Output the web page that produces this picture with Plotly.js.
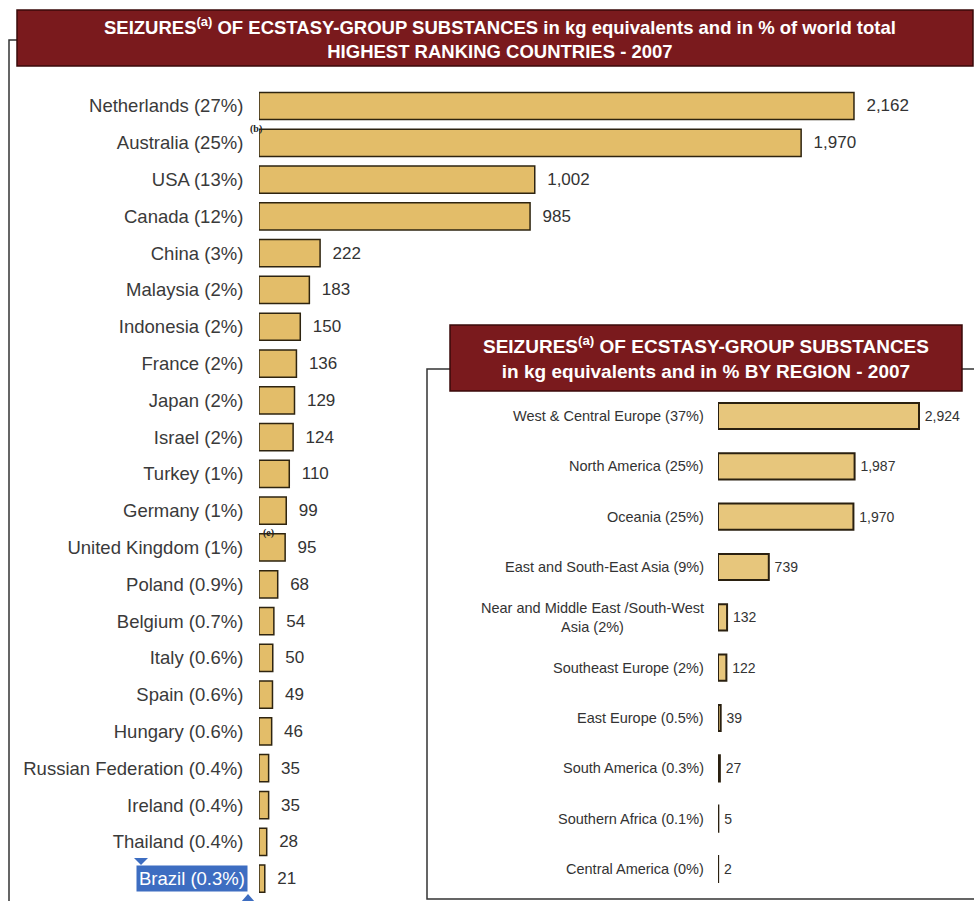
<!DOCTYPE html>
<html>
<head>
<meta charset="utf-8">
<script src="https://cdn.plot.ly/plotly-3.0.1.min.js"></script>
<style>html,body{margin:0;padding:0;background:#fff;}#chart{width:974px;height:901px;}</style>
</head>
<body>
<div id="chart"></div>
<script>
// ---- data ----
const countries = [
  "Netherlands (27%)", "Australia (25%)", "USA (13%)", "Canada (12%)", "China (3%)",
  "Malaysia (2%)", "Indonesia (2%)", "France (2%)", "Japan (2%)", "Israel (2%)",
  "Turkey (1%)", "Germany (1%)", "United Kingdom (1%)", "Poland (0.9%)", "Belgium (0.7%)",
  "Italy (0.6%)", "Spain (0.6%)", "Hungary (0.6%)", "Russian Federation (0.4%)",
  "Ireland (0.4%)", "Thailand (0.4%)", "Brazil (0.3%)"
];
const countryKg = [2162, 1970, 1002, 985, 222, 183, 150, 136, 129, 124, 110, 99, 95, 68, 54, 50, 49, 46, 35, 35, 28, 21];

const regions = [
  "West & Central Europe (37%)", "North America (25%)", "Oceania (25%)",
  "East and South-East Asia (9%)", "Near and Middle East /South-West<br>Asia (2%)",
  "Southeast Europe (2%)", "East Europe (0.5%)", "South America (0.3%)",
  "Southern Africa (0.1%)", "Central America (0%)"
];
const regionKg = [2924, 1987, 1970, 739, 132, 122, 39, 27, 5, 2];

const mainTitle = "SEIZURES<sup>(a)</sup> OF ECSTASY-GROUP SUBSTANCES in kg equivalents and in % of world total<br>HIGHEST RANKING COUNTRIES - 2007";
const insetTitle = "SEIZURES<sup>(a)</sup> OF ECSTASY-GROUP SUBSTANCES<br>in kg equivalents and in % BY REGION - 2007";
const highlighted = "Brazil (0.3%)";

// ---- layout helpers ----
const W = 974, H = 901;
const px = p => p / W;
const py = p => 1 - p / H;
const FONT = "Liberation Sans, Arial, sans-serif";
const RED = "#7a1a1d";

const traces = [
  {
    type: "bar", orientation: "h", y: countries, x: countryKg,
    xaxis: "x", yaxis: "y", width: 0.74,
    marker: {color: "#e3bd69", line: {color: "#2e2410", width: 1.5}},
    texttemplate: "\u00a0\u00a0%{x:,}", textposition: "outside", constraintext: "none",
    cliponaxis: false,
    textfont: {family: FONT, size: 17, color: "#333"},
    hoverinfo: "skip"
  },
  {
    type: "bar", orientation: "h", y: regions, x: regionKg,
    xaxis: "x2", yaxis: "y2", width: 0.52,
    marker: {color: "#e7c67c", line: {color: "#2a2010", width: 2}},
    texttemplate: "\u2009%{x:,}", textposition: "outside", constraintext: "none",
    cliponaxis: false,
    textfont: {family: FONT, size: 14, color: "#333"},
    hoverinfo: "skip"
  }
];

const annotations = [
  {xref: "paper", yref: "paper", x: px(500), y: py(38), text: mainTitle, showarrow: false,
   font: {family: FONT, size: 18.5, color: "#fff", weight: "bold"}, align: "center", xanchor: "center", yanchor: "middle"},
  {xref: "paper", yref: "paper", x: px(706), y: py(358), text: insetTitle, showarrow: false,
   font: {family: FONT, size: 19, color: "#fff", weight: "bold"}, align: "center", xanchor: "center", yanchor: "middle"},
  {xref: "paper", yref: "y", x: px(248), y: highlighted, text: highlighted, showarrow: false,
   xanchor: "right", yanchor: "middle", bgcolor: "#3d6dc1", borderpad: 2,
   font: {family: FONT, size: 18.5, color: "#fff"}},
  {xref: "paper", yref: "y", x: px(248), y: countries[1], yshift: 14, text: "(b)", showarrow: false,
   font: {family: "Liberation Serif, serif", size: 10, color: "#222", weight: "bold"}},
  {xref: "paper", yref: "y", x: px(261), y: countries[12], yshift: 14, text: "(e)", showarrow: false,
   font: {family: "Liberation Serif, serif", size: 10, color: "#222", weight: "bold"}}
];
regions.forEach(r => annotations.push({
  xref: "paper", yref: "y2", x: px(706), y: r, text: r, showarrow: false,
  xanchor: "right", yanchor: "middle", align: "center",
  font: {family: FONT, size: 14.5, color: "#333"}
}));

const shapes = [
  // main frame
  {type: "path", xref: "paper", yref: "paper", path: `M ${px(9)} ${py(910)} L ${px(9)} ${py(40)} L ${px(30)} ${py(40)}`,
   line: {color: "#333", width: 1.5}, layer: "below"},
  // main banner
  {type: "rect", xref: "paper", yref: "paper", x0: px(17), x1: px(973), y0: py(66), y1: py(10),
   fillcolor: RED, line: {color: "#3a0a0a", width: 1.5}, layer: "above"},
  // inset frame
  {type: "rect", xref: "paper", yref: "paper", x0: px(427), x1: px(990), y0: py(899), y1: py(369),
   fillcolor: "#fff", line: {color: "#333", width: 1.5}, layer: "below"},
  // inset banner
  {type: "rect", xref: "paper", yref: "paper", x0: px(450), x1: px(962), y0: py(391), y1: py(325),
   fillcolor: RED, line: {color: "#3a0a0a", width: 1.5}, layer: "above"},
  // selection markers around the highlighted label
  {type: "path", xref: "paper", yref: "paper", path: `M ${px(134)} ${py(858)} L ${px(148)} ${py(858)} L ${px(141)} ${py(865)} Z`,
   fillcolor: "#3d6dc1", line: {width: 0}, layer: "above"},
  {type: "path", xref: "paper", yref: "paper", path: `M ${px(241)} ${py(902)} L ${px(255)} ${py(902)} L ${px(248)} ${py(894)} Z`,
   fillcolor: "#3d6dc1", line: {width: 0}, layer: "above"}
];

const layout = {
  width: W, height: H,
  margin: {l: 0, r: 0, t: 0, b: 0},
  paper_bgcolor: "#fff", plot_bgcolor: "rgba(0,0,0,0)",
  showlegend: false,
  font: {family: FONT},
  xaxis: {domain: [px(259), px(947)], range: [0, 2500], visible: false, anchor: "y"},
  yaxis: {domain: [py(897), py(87.6)], type: "category", categoryorder: "array", categoryarray: countries,
          range: [countries.length - 0.5, -0.5], anchor: "x",
          showline: false, showgrid: false, zeroline: false,
          ticks: "outside", ticklen: 11, tickcolor: "rgba(0,0,0,0)",
          tickfont: {family: FONT, size: 18.5, color: "#3a3a3a"}},
  xaxis2: {domain: [px(718), px(958.6)], range: [0, 3500], visible: false, anchor: "y2"},
  yaxis2: {domain: [py(894.2), py(390.8)], type: "category", categoryorder: "array", categoryarray: regions,
           range: [regions.length - 0.5, -0.5], anchor: "x2",
           showline: false, showgrid: false, zeroline: false, showticklabels: false},
  annotations: annotations,
  shapes: shapes
};

Plotly.newPlot("chart", traces, layout, {displayModeBar: false, staticPlot: true});
</script>
</body>
</html>
